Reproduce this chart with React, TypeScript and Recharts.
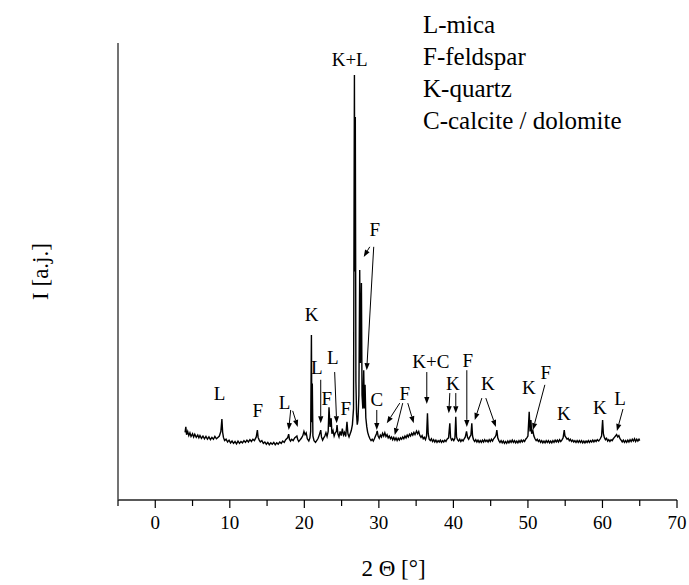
import { Line, LineChart, ReferenceDot, ReferenceLine, XAxis, YAxis } from "recharts";

const FONT = "'Liberation Serif', 'Times New Roman', serif";

// scan pieces: [2theta, counts]
const scanA: [number, number][] = [
  [4.0, 148], [4.1, 160], [4.2, 143], [4.35, 150], [4.5, 141], [4.65, 147], [4.8, 139], [5.0, 145],
  [5.15, 138], [5.3, 144], [5.5, 137], [5.7, 142], [5.85, 136], [6.0, 141], [6.2, 135], [6.4, 140],
  [6.6, 134], [6.8, 139], [7.0, 133], [7.2, 138], [7.4, 132], [7.6, 137], [7.8, 133], [8.0, 139],
  [8.2, 134], [8.4, 137], [8.6, 140], [8.8, 150], [8.94, 177], [9.04, 148], [9.15, 137], [9.3, 130],
  [9.5, 133], [9.7, 127], [9.9, 131], [10.1, 125], [10.3, 129], [10.5, 124], [10.7, 128], [10.9, 123],
  [11.1, 129], [11.3, 124], [11.5, 128], [11.7, 125], [11.9, 130], [12.1, 126], [12.3, 131], [12.5, 127],
  [12.7, 132], [12.9, 128], [13.1, 133], [13.3, 130], [13.55, 138], [13.7, 153], [13.8, 137], [13.95, 131],
  [14.1, 127], [14.3, 130], [14.5, 124], [14.7, 127], [14.9, 122], [15.1, 126], [15.3, 121], [15.5, 125],
  [15.7, 122], [15.9, 126], [16.1, 121], [16.3, 125], [16.5, 122], [16.7, 127], [16.9, 124], [17.1, 129],
  [17.3, 126], [17.5, 132], [17.75, 136], [17.9, 144], [18.0, 133], [18.15, 129], [18.3, 133], [18.5, 130],
  [18.7, 136], [19.0, 140], [19.1, 133], [19.25, 128], [19.4, 131], [19.6, 135], [19.8, 141], [19.95, 150],
  [20.1, 143], [20.25, 147], [20.4, 134], [20.6, 129], [20.75, 136],
];

const scanB: [number, number][] = [
  [20.85, 150], [20.95, 361], [21.01, 170], [21.07, 255], [21.15, 140], [21.3, 130], [21.5, 126], [21.7, 131],
  [21.85, 135], [22.0, 142], [22.2, 153], [22.3, 138], [22.45, 131], [22.6, 136], [22.75, 140], [22.9, 147],
  [23.05, 139], [23.2, 150], [23.31, 203], [23.45, 160], [23.6, 179], [23.7, 145], [23.85, 152], [24.0, 140],
  [24.15, 147], [24.3, 150], [24.39, 164], [24.5, 145], [24.65, 138], [24.8, 150], [24.95, 141], [25.1, 156],
  [25.25, 142], [25.4, 148], [25.55, 139], [25.72, 171], [25.85, 145], [26.0, 138], [26.15, 145], [26.3, 152],
  [26.45, 165], [26.6, 200], [26.72, 930], [26.78, 500], [26.84, 838], [26.92, 260], [27.0, 190], [27.1, 165],
  [27.2, 175], [27.32, 230], [27.43, 503], [27.52, 300], [27.66, 475], [27.74, 230], [27.85, 200], [27.97, 284],
  [28.05, 200], [28.15, 252], [28.25, 180], [28.38, 160], [28.5, 148], [28.65, 140], [28.8, 134], [28.95, 130],
  [29.1, 133], [29.25, 129], [29.4, 134], [29.55, 140], [29.68, 145], [29.78, 151], [29.9, 140], [30.05, 135],
];

const scanC: [number, number][] = [
  [30.2, 142], [30.35, 138], [30.5, 146], [30.65, 140], [30.8, 147], [30.95, 139], [31.1, 143], [31.25, 136],
  [31.4, 140], [31.55, 134], [31.7, 138], [31.85, 132], [32.0, 137], [32.15, 131], [32.3, 136], [32.45, 130],
  [32.6, 135], [32.75, 131], [32.9, 136], [33.05, 133], [33.2, 138], [33.35, 134], [33.5, 140], [33.65, 136],
  [33.8, 142], [33.95, 138], [34.1, 144], [34.25, 140], [34.4, 146], [34.55, 142], [34.7, 148], [34.85, 143],
  [35.05, 151], [35.2, 145], [35.35, 150], [35.5, 141], [35.65, 137], [35.8, 141], [35.95, 134], [36.1, 137],
  [36.25, 132], [36.4, 140], [36.52, 190], [36.62, 145], [36.75, 133], [36.9, 130], [37.05, 134], [37.2, 128],
  [37.35, 132], [37.5, 127], [37.65, 131], [37.8, 126], [37.95, 130], [38.1, 127], [38.25, 131], [38.4, 126],
  [38.55, 130], [38.7, 127], [38.85, 131], [39.0, 128], [39.15, 133], [39.35, 136], [39.52, 168], [39.62, 137],
  [39.75, 131], [39.9, 134], [40.05, 130], [40.2, 135], [40.32, 182], [40.42, 138], [40.55, 132], [40.7, 129],
  [40.85, 133], [41.0, 128], [41.15, 132], [41.3, 129], [41.45, 134], [41.6, 138], [41.76, 150], [41.9, 137],
  [42.05, 133], [42.2, 138], [42.35, 142], [42.47, 168], [42.57, 140], [42.7, 132], [42.85, 128], [43.0, 132],
  [43.15, 127], [43.3, 131], [43.45, 126], [43.6, 130], [43.75, 126], [43.9, 131], [44.05, 127], [44.2, 132],
  [44.35, 128], [44.5, 131], [44.65, 127], [44.8, 132], [44.95, 128],
];

const scanD: [number, number][] = [
  [45.1, 133], [45.25, 129], [45.4, 134], [45.6, 138], [45.72, 142], [45.83, 153], [45.95, 136], [46.1, 130],
  [46.25, 126], [46.4, 130], [46.55, 125], [46.7, 129], [46.85, 124], [47.0, 128], [47.15, 124], [47.3, 129],
  [47.45, 125], [47.6, 130], [47.75, 126], [47.9, 131], [48.05, 126], [48.2, 130], [48.35, 125], [48.5, 129],
  [48.65, 125], [48.8, 130], [48.95, 126], [49.1, 131], [49.25, 127], [49.4, 131], [49.55, 128], [49.7, 133],
  [49.85, 136], [50.0, 140], [50.17, 193], [50.28, 150], [50.4, 175], [50.5, 145], [50.66, 152], [50.8, 140],
  [50.95, 134], [51.1, 130], [51.25, 133], [51.4, 128], [51.55, 131], [51.7, 126], [51.85, 130], [52.0, 125],
  [52.15, 129], [52.3, 125], [52.45, 130], [52.6, 126], [52.75, 130], [52.9, 125], [53.05, 129], [53.2, 125],
  [53.35, 130], [53.5, 126], [53.65, 131], [53.8, 127], [53.95, 131], [54.1, 127], [54.25, 132], [54.4, 128],
  [54.55, 131], [54.72, 136], [54.87, 153], [54.97, 140], [55.1, 137], [55.25, 133], [55.4, 135], [55.55, 130],
  [55.7, 133], [55.85, 128], [56.0, 131], [56.15, 127], [56.3, 130], [56.45, 126], [56.6, 130], [56.75, 126],
  [56.9, 130], [57.05, 126], [57.2, 130], [57.35, 125], [57.5, 129], [57.65, 125], [57.8, 129], [57.95, 126],
  [58.1, 130], [58.25, 126], [58.4, 130], [58.55, 127], [58.7, 131], [58.85, 127], [59.0, 131], [59.15, 128],
  [59.3, 132], [59.5, 129], [59.7, 134], [59.88, 140], [60.02, 175], [60.12, 145], [60.25, 137], [60.4, 132],
  [60.55, 135], [60.7, 129], [60.85, 132], [61.0, 128], [61.15, 132], [61.3, 130], [61.45, 134], [61.6, 137],
  [61.75, 140], [61.9, 143], [62.05, 138], [62.2, 141], [62.35, 134], [62.5, 131], [62.65, 127], [62.8, 131],
  [62.95, 126], [63.1, 130], [63.25, 126], [63.4, 131], [63.55, 127], [63.7, 132], [63.85, 128], [64.0, 133],
  [64.15, 129], [64.3, 134], [64.45, 128], [64.6, 133], [64.75, 129], [64.9, 133], [65.0, 130],
];

const xTicks = [-5, 0, 5, 10, 15, 20, 25, 30, 35, 40, 45, 50, 55, 60, 65, 70];

// peak letters and where they sit [2theta, counts]
const peakNames = ["L", "F", "L", "K", "L", "F", "L", "F", "K+L", "F", "C", "F", "K+C", "K", "F", "K", "K", "F", "K", "K", "L"];
const peakLabelAt: [number, number][] = [
  [8.63, 234], [13.74, 195], [17.36, 214], [20.99, 405], [21.66, 291], [23.0, 223], [23.81, 311],
  [25.55, 201], [26.09, 963], [29.45, 591], [29.72, 219], [33.48, 234], [36.97, 302], [39.92, 256],
  [41.94, 306], [44.62, 256], [50.14, 247], [52.4, 278], [54.83, 190], [59.66, 203], [62.35, 223],
];

// arrows from label to peak
const arrowFrom: [number, number][] = [
  [18.17, 197], [18.44, 195], [22.2, 263], [24.07, 280], [28.78, 554], [29.31, 554], [29.72, 197],
  [32.8, 212], [33.2, 212], [33.88, 212], [36.43, 280], [39.52, 234], [40.32, 234], [41.8, 284],
  [43.82, 223], [44.35, 223], [52.27, 252], [62.75, 199],
];
const arrowTo: [number, number][] = [
  [17.9, 153], [19.11, 160], [22.2, 168], [24.34, 168], [27.97, 532], [28.37, 284], [29.72, 153],
  [31.06, 168], [32.13, 142], [34.68, 168], [36.43, 210], [39.38, 190], [40.32, 190], [41.8, 160],
  [42.87, 175], [45.7, 160], [50.66, 153], [61.94, 151],
];

const phases = ["L-mica", "F-feldspar", "K-quartz", "C-calcite / dolomite"];

const rows = [...scanA, ...scanB, ...scanC, ...scanD].map(([t, c]) => ({ theta: t, counts: c }));

function XTick(props: any) {
  const { x, y, payload } = props;
  const major = payload.value % 10 === 0;
  return (
    <g>
      <line x1={x} y1={y} x2={x} y2={y + (major ? 8 : 6)} stroke="#000" strokeWidth={1.2} />
      {major && (
        <text x={x} y={y + 22} textAnchor="middle" dominantBaseline="central" fontFamily={FONT} fontSize={19} fill="#000">
          {payload.value}
        </text>
      )}
    </g>
  );
}

function Arrow(props: any) {
  const { x1, y1, x2, y2 } = props;
  const a = Math.atan2(y2 - y1, x2 - x1);
  const len = 7;
  const w = 2.6;
  const bx = x2 - len * Math.cos(a);
  const by = y2 - len * Math.sin(a);
  const px = -Math.sin(a) * w;
  const py = Math.cos(a) * w;
  return (
    <g>
      <line x1={x1} y1={y1} x2={bx} y2={by} stroke="#000" strokeWidth={1} />
      <polygon points={`${x2},${y2} ${bx + px},${by + py} ${bx - px},${by - py}`} fill="#000" />
    </g>
  );
}

export default function App() {
  return (
    <div style={{ position: "absolute", left: 0, top: 0, width: 689, height: 585, background: "#fff" }}>
      <LineChart width={689} height={585} data={rows} margin={{ top: 43, right: 12, bottom: 0, left: 38 }}>
        <XAxis
          type="number"
          dataKey="theta"
          domain={[-5, 70]}
          ticks={xTicks}
          interval={0}
          allowDataOverflow
          height={85}
          tickSize={0}
          tickMargin={0}
          tickLine={false}
          tick={(p: any) => <XTick {...p} />}
          axisLine={{ stroke: "#222", strokeWidth: 1.5 }}
          label={{
            content: (p: any) => {
              const vb = p.viewBox;
              return (
                <text x={vb.x + vb.width / 2 - 4} y={vb.y + 68} textAnchor="middle" dominantBaseline="central" fontFamily={FONT} fontSize={23} fill="#000">
                  2 Θ [°]
                </text>
              );
            },
          }}
        />
        <YAxis
          type="number"
          domain={[0, 1000]}
          width={80}
          tick={false}
          tickLine={false}
          axisLine={{ stroke: "#444", strokeWidth: 1.5 }}
          label={{
            content: (p: any) => {
              const vb = p.viewBox;
              const cx = vb.x + vb.width - 78;
              const cy = vb.y + vb.height / 2;
              return (
                <text x={cx} y={cy} transform={`rotate(-90 ${cx} ${cy})`} textAnchor="middle" dominantBaseline="central" fontFamily={FONT} fontSize={23} fill="#000">
                  I [a.j.]
                </text>
              );
            },
          }}
        />
        <Line type="linear" dataKey="counts" stroke="#000" strokeWidth={1.4} dot={false} isAnimationActive={false} />
        {arrowFrom.map((f, i) => (
          <ReferenceLine
            key={`a${i}`}
            segment={[{ x: f[0], y: f[1] }, { x: arrowTo[i][0], y: arrowTo[i][1] }]}
            ifOverflow="visible"
            shape={(p: any) => <Arrow {...p} />}
          />
        ))}
        {peakLabelAt.map((pt, i) => (
          <ReferenceDot
            key={`l${i}`}
            x={pt[0]}
            y={pt[1]}
            r={2}
            ifOverflow="visible"
            shape={(p: any) => (
              <text x={p.cx} y={p.cy} textAnchor="middle" dominantBaseline="central" fontFamily={FONT} fontSize={19} fill="#000">
                {peakNames[i]}
              </text>
            )}
          />
        ))}
      </LineChart>
      <div style={{ position: "absolute", left: 423, top: 9, fontFamily: FONT, fontSize: 25, lineHeight: "32px", color: "#000" }}>
        {phases.map((s) => (
          <div key={s}>{s}</div>
        ))}
      </div>
    </div>
  );
}
